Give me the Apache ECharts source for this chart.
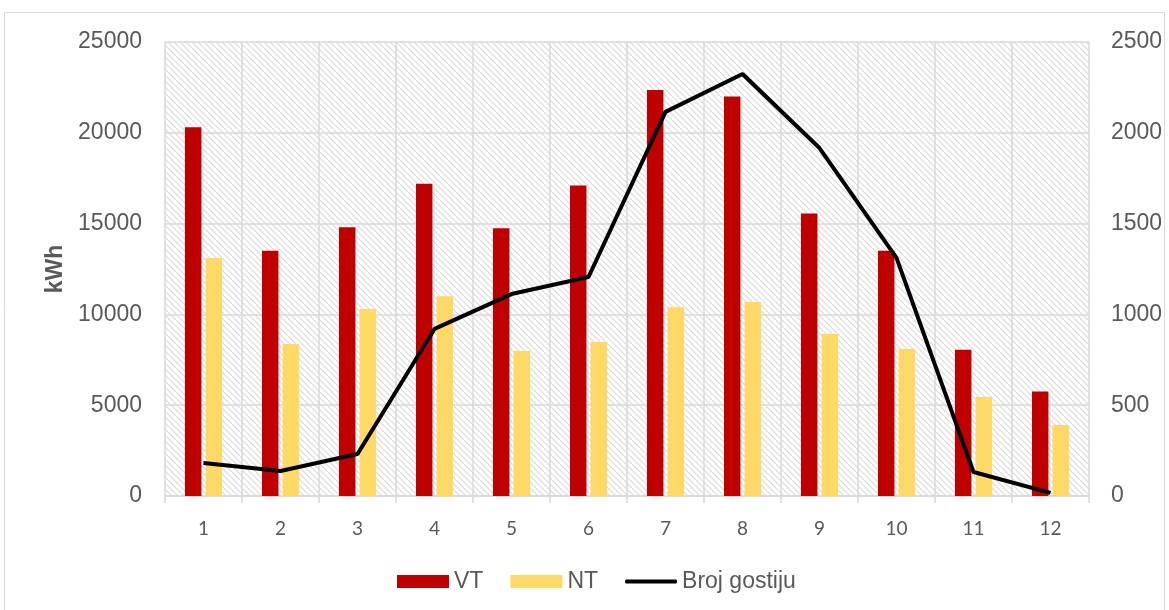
<!DOCTYPE html>
<html>
<head>
<meta charset="utf-8">
<script src="https://cdn.jsdelivr.net/npm/echarts@6/dist/echarts.min.js"></script>
<style>
    html, body { margin: 0; padding: 0; background: #fff; }
    #chart { width: 1169px; height: 610px; }
</style>
</head>
<body>
<div id="chart"></div>
<script>
    // mjeseci
    const months = ['1', '2', '3', '4', '5', '6', '7', '8', '9', '10', '11', '12']
    const vt = [20300, 13500, 14800, 17200, 14750, 17100, 22350, 22000, 15550, 13500, 8050, 5750]
    const nt = [13100, 8370, 10300, 11000, 7980, 8480, 10400, 10680, 8920, 8090, 5450, 3910]
    const gosti = [182, 138, 231, 920, 1112, 1206, 2115, 2324, 1916, 1311, 132, 17]

    // šrafura pozadine
    const tile = document.createElement('canvas')
    tile.width = 6
    tile.height = 6
    const ctx = tile.getContext('2d')
    ctx.fillStyle = '#ffffff'
    ctx.fillRect(0, 0, 6, 6)
    ctx.strokeStyle = '#dadada'
    ctx.lineWidth = 1.2
    ctx.beginPath()
    ctx.moveTo(-1, -1); ctx.lineTo(7, 7)
    ctx.moveTo(-4, 2); ctx.lineTo(2, 8)
    ctx.moveTo(2, -4); ctx.lineTo(8, 2)
    ctx.stroke()

    const plain = v => String(v)

    const chart = echarts.init(document.getElementById('chart'))
    chart.setOption({
        animation: false,
        textStyle: { fontFamily: 'Liberation Sans, Arial, sans-serif' },
        graphic: [{
            type: 'rect',
            shape: { x: 4.5, y: 12.5, width: 1160, height: 620 },
            style: { fill: 'none', stroke: '#d9d9d9', lineWidth: 1 },
            z: -10
        }],
        legend: {
            left: 392,
            top: 565,
            itemWidth: 52,
            itemHeight: 13,
            itemGap: 27,
            textStyle: { fontSize: 23, color: '#595959' },
            data: [
                { name: 'VT', icon: 'rect' },
                { name: 'NT', icon: 'rect' },
                { name: 'Broj gostiju', icon: 'path://M2,0 L98,0 Q100,0 100,4 Q100,8 98,8 L2,8 Q0,8 0,4 Q0,0 2,0 Z' }
            ]
        },
        grid: {
            left: 165,
            right: 80,
            top: 42,
            bottom: 114,
            show: true,
            borderWidth: 0,
            backgroundColor: { image: tile, repeat: 'repeat' }
        },
        xAxis: {
            type: 'category',
            data: months,
            axisLine: { lineStyle: { color: '#d9d9d9', width: 1.5 } },
            axisTick: { show: true, length: 7, lineStyle: { color: '#d9d9d9', width: 1.5 } },
            axisLabel: { fontSize: 19, fontFamily: 'Lato', color: '#595959', margin: 23 },
            splitLine: { show: true, lineStyle: { color: '#d9d9d9', width: 1.5 } }
        },
        yAxis: [
            {
                type: 'value',
                min: 0,
                max: 25000,
                interval: 5000,
                name: 'kWh',
                nameLocation: 'middle',
                nameGap: 98,
                nameTextStyle: { fontSize: 23, fontWeight: 'bold', color: '#595959' },
                axisLine: { show: false },
                axisTick: { show: false },
                axisLabel: { fontSize: 23, color: '#595959', margin: 23, formatter: plain },
                splitLine: { lineStyle: { color: '#d9d9d9', width: 1.5 } }
            },
            {
                type: 'value',
                min: 0,
                max: 2500,
                interval: 500,
                axisLine: { show: false },
                axisTick: { show: false },
                axisLabel: { fontSize: 23, color: '#595959', margin: 22, formatter: plain },
                splitLine: { show: false }
            }
        ],
        series: [
            {
                name: 'VT',
                type: 'bar',
                data: vt,
                barWidth: 16.5,
                barGap: '25%',
                itemStyle: { color: '#c00000' }
            },
            {
                name: 'NT',
                type: 'bar',
                data: nt,
                barWidth: 16.5,
                barGap: '25%',
                itemStyle: { color: '#ffd966' }
            },
            {
                name: 'Broj gostiju',
                type: 'line',
                yAxisIndex: 1,
                data: gosti,
                symbol: 'none',
                lineStyle: { color: '#000000', width: 4 },
                itemStyle: { color: '#000000' }
            }
        ]
    })
    window.addEventListener('resize', () => chart.resize())
</script>
</body>
</html>
